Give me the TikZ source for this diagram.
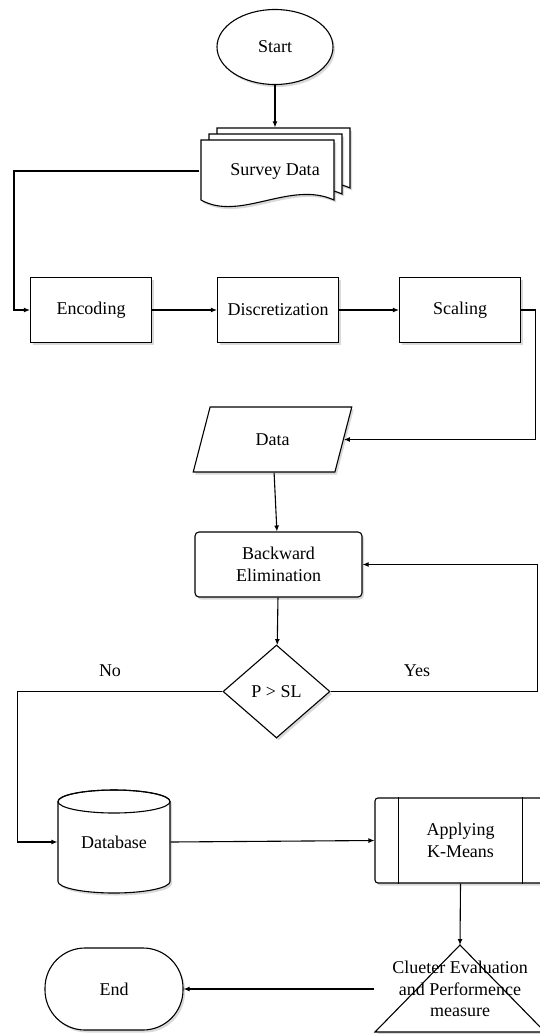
\documentclass[tikz,border=0pt]{standalone}
\usepackage{fontspec}
\setmainfont{Liberation Serif}
\usetikzlibrary{arrows.meta,shadows,shapes.geometric}
\def\docpage(#1,#2){\draw[fill=white,shadowed,shift={(#1,#2)}] (201,140) -- (334,140) -- (334,200) .. controls (290,180) and (240,222) .. (201,200) -- cycle;}

\begin{document}
\begin{tikzpicture}[x=1pt,y=-1pt,line width=1.1pt,
	every node/.style={font=\fontsize{18}{21.5}\selectfont},
	shadowed/.style={drop shadow={shadow xshift=2pt,shadow yshift=-2.5pt,opacity=0.15,fill=black}},
	proc/.style={draw,fill=white,shadowed,minimum width=121pt,minimum height=65pt,inner sep=0pt},
	flow/.style={-{Latex[length=6pt,width=5pt]}}]
			%%%%% START %%%%%
			\useasboundingbox (0,0) rectangle (540,1034);
			
			\node[draw,fill=white,shadowed,ellipse,minimum width=116pt,minimum height=75pt,inner sep=0pt] (start) at (275,47) {Start};
			
			\docpage(16,-12)
			\docpage(8,-6)
			\docpage(0,0)
			\node[minimum width=150pt,minimum height=86pt] (sd) at (275,171) {Survey Data};
			
			\node[proc] (enc) at (91,310) {Encoding};
			\node[proc] (disc) at (278,310) {Discretization};
			\node[proc] (scal) at (460,310) {Scaling};
			
			\node[draw,fill=white,shadowed,trapezium,trapezium left angle=69,trapezium right angle=111,trapezium stretches=true,minimum width=159pt,minimum height=65pt,inner sep=0pt] (data) at (272.5,439.5) {Data};
			
			\node[proc,rounded corners=4pt,minimum width=167pt,align=center] (be) at (278.5,564.5) {Backward\\Elimination};
			
			\node[draw,fill=white,shadowed,diamond,minimum width=107pt,minimum height=93pt,inner sep=0pt] (dec) at (276.5,691.5) {P > SL};
			\node (no) at (110,671) {No};
			\node (yes) at (417,671) {Yes};
			
			\draw[fill=white,shadowed] (58,801.5) -- (58,881.5) arc[start angle=180,end angle=0,x radius=56,y radius=11.5] -- (170,801.5) arc[start angle=0,end angle=-180,x radius=56,y radius=11.5] -- cycle;
			\draw (114,801.5) ellipse[x radius=56,y radius=11.5];
			\node[minimum width=112pt,minimum height=103pt] (db) at (114,842) {Database};
			
			\node[proc,rounded corners=3pt,minimum width=171pt,minimum height=85pt,align=center] (km) at (460.5,840.5) {Applying\\K-Means};
			\draw ([xshift=24pt]km.north west) -- ([xshift=24pt]km.south west);
			\draw ([xshift=-24pt]km.north east) -- ([xshift=-24pt]km.south east);
			
			\coordinate (evtop) at (460,945);
			\draw[fill=white,shadowed] (evtop) -- ++(85,87) -- ++(-170,0) -- cycle;
			\node[align=center,minimum width=170pt,inner sep=0pt] (ev) at (460,989) {Clueter Evaluation\\and Performence\\measure};
			
			\node[draw,fill=white,shadowed,rounded corners=40pt,minimum width=138pt,minimum height=82pt] (end) at (114,989) {End};
			
			\draw[flow] (start) -- (sd.north);
			\draw[flow] (sd.west) -| ([xshift=-16pt]enc.west) -- (enc.west);
			\draw[flow] (enc) -- (disc);
			\draw[flow] (disc) -- (scal);
			\draw[flow] (scal.east) -- ++(14,0) |- (data.east);
			\draw[flow] (data) -- (be);
			\draw[flow] (be) -- (dec);
			\draw[flow] (dec.east) -- ++(207,0) |- (be.east);
			\draw[flow] (dec.west) -- ++(-205,0) |- (db.west);
			\draw[flow] (db.east) -- (km.west);
			\draw[flow] (km.south) -- (evtop);
			\draw[flow] (ev.west) -- (end.east);
			
			%%%%% END %%%%%
\end{tikzpicture}
\end{document}
